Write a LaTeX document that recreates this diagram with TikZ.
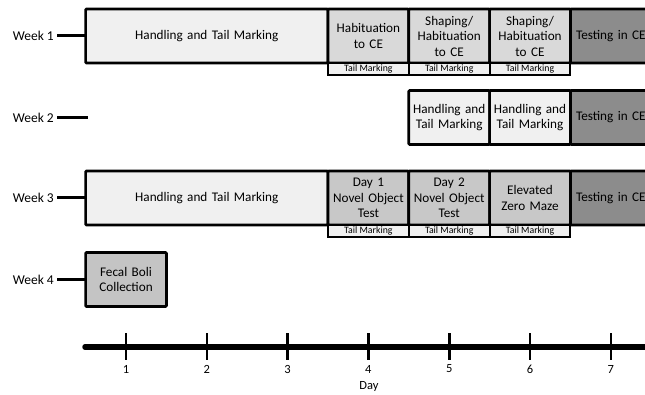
\documentclass[tikz,border=0pt]{standalone}
\usepackage{fontspec}
\setmainfont{Carlito}
\usetikzlibrary{positioning}
\definecolor{pale}{RGB}{240,240,240}
\definecolor{moyen}{RGB}{217,217,217}
\definecolor{fonce}{RGB}{200,200,200}
\definecolor{boli}{RGB}{196,196,196}
\definecolor{essai}{RGB}{140,140,140}
\begin{document}
\begin{tikzpicture}[
      x=1pt, y=-1pt,
      etape/.style={
        draw,
        line width=2.7pt,
        rounded corners=1pt,
        minimum height=54pt,
        minimum width=80.8pt,
        text width=79pt,
        align=center,
        inner sep=0pt,
        outer sep=0pt,
        font=\fontsize{13.2}{15.5}\selectfont
      },
      marque/.style={
        draw,
        line width=2pt,
        fill=pale,
        minimum height=12pt,
        minimum width=80.8pt,
        inner sep=0pt,
        outer sep=0pt,
        font=\fontsize{9.8}{10}\selectfont
      },
      semaine/.style={
        anchor=east,
        inner xsep=3pt,
        font=\fontsize{13.5}{15}\selectfont
      },
      trait/.style={line width=3pt}
    ]
    \useasboundingbox (0,0) rectangle (645,395);
    % week 1
    \node[semaine] (wk1) at (57,36) {Week 1} ;
    \node[etape, fill=pale, minimum width=242.4pt, text width=230pt] (hand1) at (206.8,36) {Handling and Tail Marking} ;
    \node[etape, fill=moyen, right=0pt of hand1] (hab1) {Habituation\\to CE} ;
    \node[etape, fill=moyen, right=0pt of hab1] (shap1) {Shaping/\\Habituation\\to CE} ;
    \node[etape, fill=moyen, right=0pt of shap1] (shap2) {Shaping/\\Habituation\\to CE} ;
    \node[etape, fill=essai, right=0pt of shap2] (test1) {Testing in CE} ;
    \node[marque, below=0pt of hab1] (tm1a) {Tail Marking} ;
    \node[marque, below=0pt of shap1] (tm1b) {Tail Marking} ;
    \node[marque, below=0pt of shap2] (tm1c) {Tail Marking} ;
    \draw[trait] (wk1) -- (hand1);
    % week 2
    \node[semaine] (wk2) at (57,117.5) {Week 2} ;
    \coordinate (wk2end) at (88,117.5);
    \node[etape, fill=pale] (hand2a) at (449.2,117.5) {Handling and\\Tail Marking} ;
    \node[etape, fill=pale, right=0pt of hand2a] (hand2b) {Handling and\\Tail Marking} ;
    \node[etape, fill=essai, right=0pt of hand2b] (test2) {Testing in CE} ;
    \draw[trait] (wk2) -- (wk2end);
    % week 3
    \node[semaine] (wk3) at (57,198) {Week 3} ;
    \node[etape, fill=pale, minimum width=242.4pt, text width=230pt] (hand3) at (206.8,198) {Handling and Tail Marking} ;
    \node[etape, fill=fonce, right=0pt of hand3] (nov1) {Day 1\\Novel Object\\Test} ;
    \node[etape, fill=fonce, right=0pt of nov1] (nov2) {Day 2\\Novel Object\\Test} ;
    \node[etape, fill=fonce, right=0pt of nov2] (ezm) {Elevated\\Zero Maze} ;
    \node[etape, fill=essai, right=0pt of ezm] (test3) {Testing in CE} ;
    \node[marque, below=0pt of nov1] (tm3a) {Tail Marking} ;
    \node[marque, below=0pt of nov2] (tm3b) {Tail Marking} ;
    \node[marque, below=0pt of ezm] (tm3c) {Tail Marking} ;
    \draw[trait] (wk3) -- (hand3);
    % week 4
    \node[semaine] (wk4) at (57,279.5) {Week 4} ;
    \node[etape, fill=boli] (feces) at (126,279.5) {Fecal Boli\\Collection} ;
    \draw[line width=2.2pt] (wk4) -- (feces);
    % day axis
    \coordinate (axeA) at (85,347);
    \coordinate (axeB) at (660,347);
    \draw[line width=5.5pt, line cap=round] (axeA) -- (axeB);
    \foreach \d in {1,...,7} {
      \draw[line width=2.6pt] ({126+(\d-1)*80.8},333) -- ({126+(\d-1)*80.8},360);
      \node[font=\fontsize{12.5}{14}\selectfont] (j\d) at ({126+(\d-1)*80.8},369) {\d} ;
    }
    \node[font=\fontsize{12.5}{14}\selectfont] (jour) at (369,386) {Day} ;

  \end{tikzpicture}
\end{document}
